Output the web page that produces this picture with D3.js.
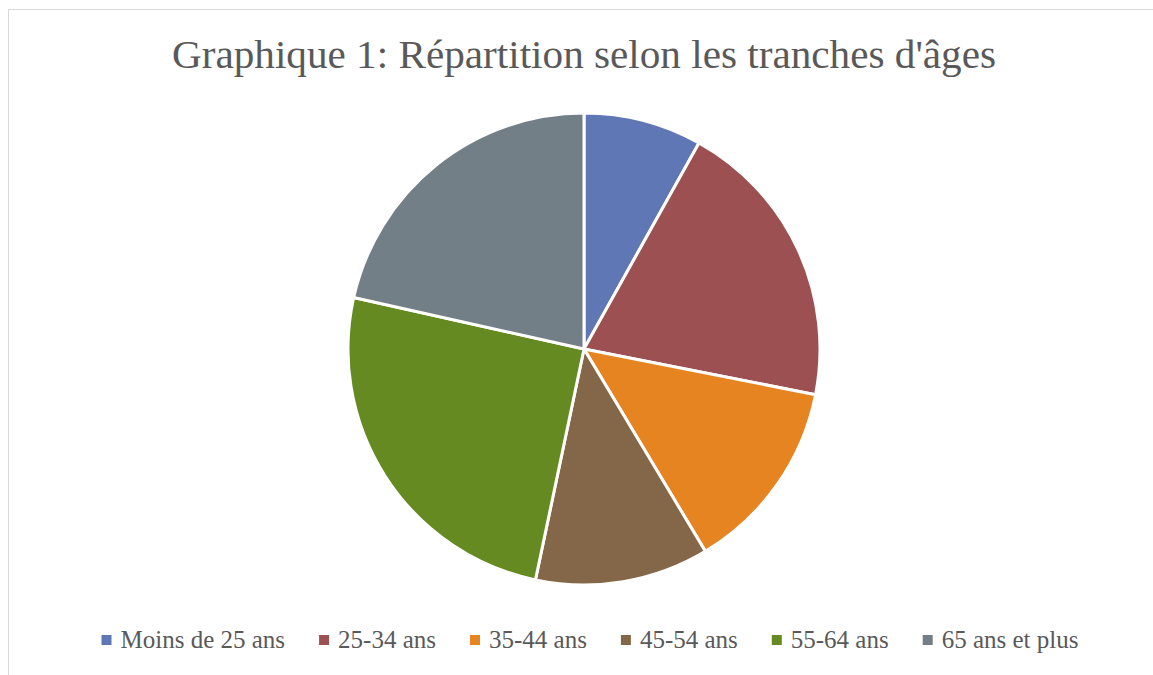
<!DOCTYPE html>
<html>
<head>
<meta charset="utf-8">
<script src="https://cdn.jsdelivr.net/npm/d3@7"></script>
<style>
  body { margin: 0; background: #fff; }
  svg { display: block; }
</style>
</head>
<body>
<svg id="chart" width="1153" height="675"></svg>
<script>
const categories = ["Moins de 25 ans", "25-34 ans", "35-44 ans", "45-54 ans", "55-64 ans", "65 ans et plus"];
const values = [8.1, 20.0, 13.3, 11.9, 25.2, 21.5];
const colors = ["#5F77B5", "#9C5052", "#E68422", "#846648", "#648A21", "#737F86"];
const title = "Graphique 1: Répartition selon les tranches d'âges";

const FONT = "'Liberation Serif', 'DejaVu Serif', serif";
const cx = 584, cy = 349, radius = 236;

const svg = d3.select("#chart");

// chart area border
svg.append("rect")
  .attr("x", 8.5).attr("y", 9.5)
  .attr("width", 1200).attr("height", 700)
  .attr("fill", "#fff")
  .attr("stroke", "#d9d9d9")
  .attr("stroke-width", 1);

const titleText = svg.append("text")
  .attr("x", 584).attr("y", 68)
  .attr("text-anchor", "middle")
  .style("font-family", FONT)
  .style("font-size", "39px")
  .style("fill", "#595959")
  .text(title);
// stretch to the reference width, the font is a bit narrower
const tw = titleText.node().getComputedTextLength();
if (Math.abs(tw - 824) > 6) {
  titleText.attr("textLength", 824).attr("lengthAdjust", "spacingAndGlyphs");
}

const pie = d3.pie().sort(null).value(d => d);
const arc = d3.arc().innerRadius(0).outerRadius(radius);

svg.append("g")
  .attr("transform", `translate(${cx},${cy})`)
  .selectAll("path")
  .data(pie(values))
  .join("path")
  .attr("d", arc)
  .attr("fill", (d, i) => colors[i])
  .attr("stroke", "#fff")
  .attr("stroke-width", 3)
  .attr("stroke-linejoin", "round");

// legend, laid out in one centred row
const legend = svg.append("g");
const items = legend.selectAll("g")
  .data(categories)
  .join("g");

items.append("rect")
  .attr("x", 0).attr("y", -13)
  .attr("width", 10).attr("height", 10)
  .attr("fill", (d, i) => colors[i]);

items.append("text")
  .attr("x", 19).attr("y", 0)
  .style("font-family", FONT)
  .style("font-size", "25px")
  .style("fill", "#595959")
  .text(d => d);

const gap = 34;
let x = 0;
const offsets = [];
items.each(function() {
  offsets.push(x);
  const w = 19 + d3.select(this).select("text").node().getComputedTextLength();
  x += w + gap;
});
const total = x - gap;
const startX = 590 - total / 2;
items.attr("transform", (d, i) => `translate(${startX + offsets[i]},648)`);
</script>
</body>
</html>
